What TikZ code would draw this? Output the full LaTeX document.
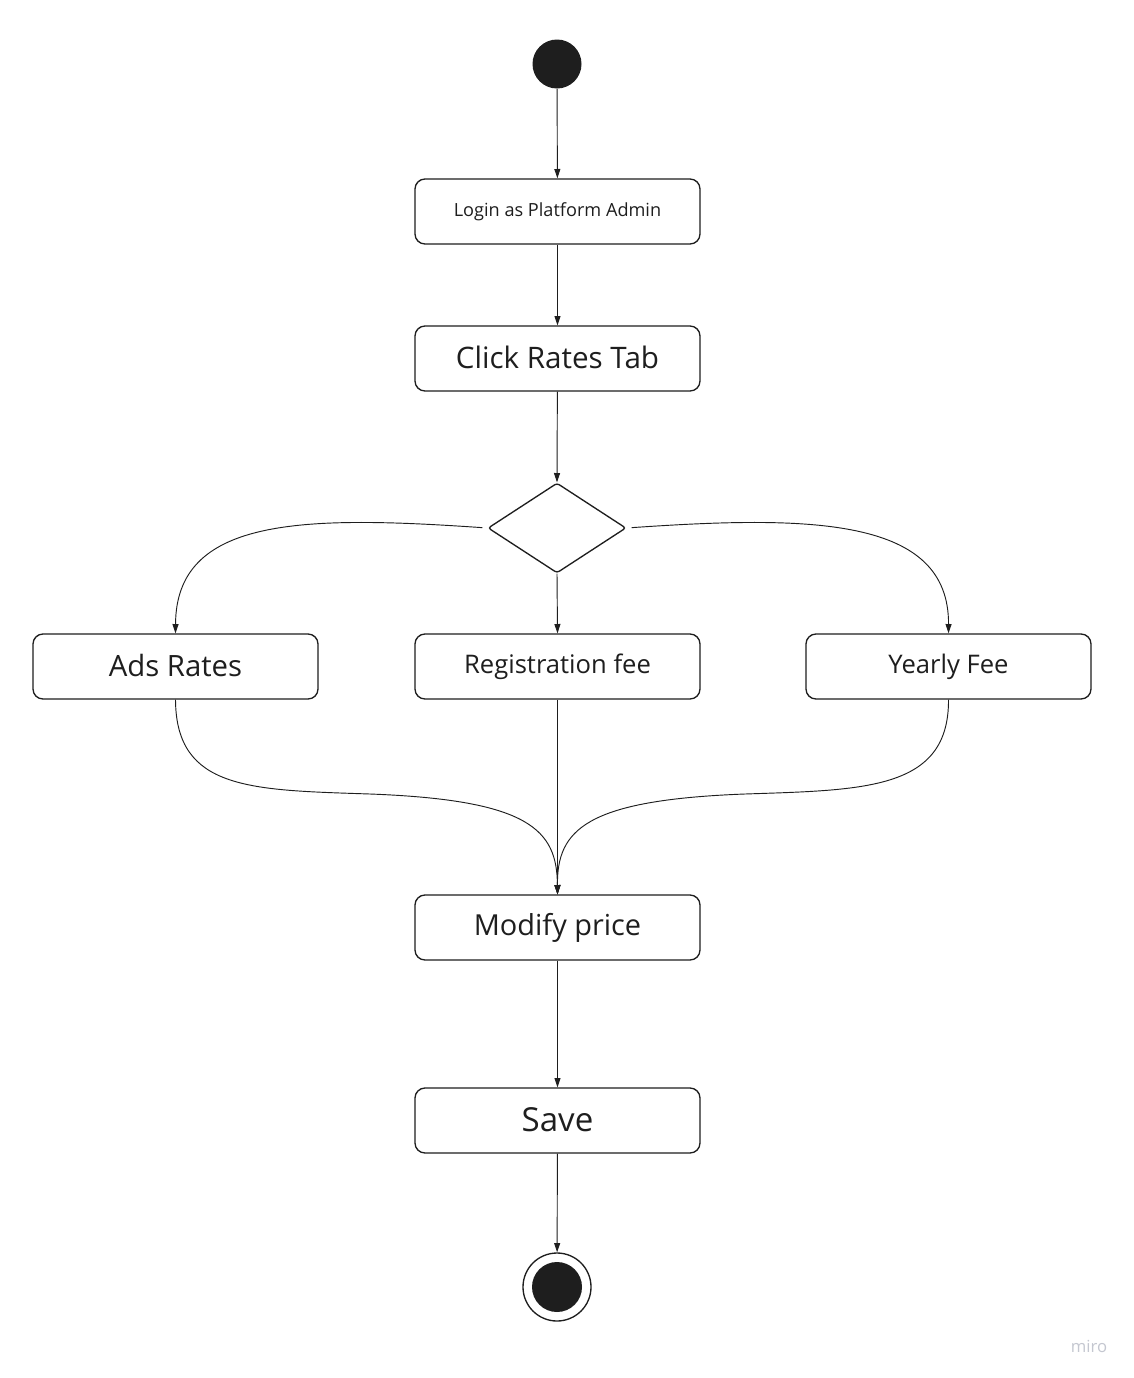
\documentclass[tikz,border=0pt]{standalone}
\usepackage{fontspec}
\setmainfont{Open Sans}
\usetikzlibrary{arrows.meta,shapes.geometric}
\definecolor{ink}{HTML}{1E1E1E}
\definecolor{wm}{HTML}{C4C7D0}
\begin{document}
\begin{tikzpicture}[x=0.75pt,y=-0.75pt,
  actbox/.style={draw=ink,line width=1pt,rounded corners=7.5pt,minimum width=213.75pt,minimum height=48.75pt,inner sep=0pt,text=ink},
  flow/.style={draw=ink,line width=0.7pt,-{Triangle[length=7pt,width=4.5pt]}},
  dot/.style={circle,fill=ink,inner sep=0pt,minimum size=36.75pt}]
\path[fill=white,use as bounding box] (0,0) rectangle (1133,1378);

\node[dot] (start) at (557,64) {};
\node[actbox,font=\fontsize{13.6}{16}\selectfont] (login) at (557.5,211.5) {Login as Platform Admin};
\node[actbox,font=\fontsize{22.2}{26}\selectfont] (click) at (557.5,358.5) {\raisebox{1.5pt}{Click Rates Tab}};
\node[diamond,draw=ink,line width=1pt,rounded corners=2pt,minimum width=103.5pt,minimum height=67.5pt,inner sep=0pt] (dia) at (557,528) {};
\node[actbox,font=\fontsize{22}{26}\selectfont] (ads) at (175.5,666.5) {\raisebox{1.5pt}{Ads Rates}};
\node[actbox,font=\fontsize{19.2}{23}\selectfont] (reg) at (557.5,666.5) {Registration fee};
\node[actbox,font=\fontsize{19.2}{23}\selectfont] (yearly) at (948.5,666.5) {Yearly Fee};
\node[actbox,font=\fontsize{21.7}{26}\selectfont] (modify) at (557.5,927.5) {\raisebox{1pt}{Modify price}};
\node[actbox,font=\fontsize{24.8}{29}\selectfont] (save) at (557.5,1120.5) {\raisebox{1.5pt}{Save}};
\node[circle,draw=ink,line width=1pt,fill=white,inner sep=0pt,minimum size=51pt] (endo) at (557,1287) {};
\node[dot,minimum size=37.5pt] (endi) at (endo.center) {};
\node[text=wm,font=\fontsize{12.5}{14}\selectfont] (miro) at (1089,1346) {miro};

\draw[flow] (start) -- (login);
\draw[flow] (login) -- (click);
\draw[flow] (click) -- (dia.north);
\draw[flow,shorten <=3.75pt] (dia.west) .. controls (300,515) and (176,518) .. (ads.north);
\draw[flow,shorten <=3.75pt] (dia.east) .. controls (814,515) and (949,518) .. (yearly.north);
\draw[flow] (dia.south) -- (reg.north);
\draw[flow] (ads.south) .. controls (176,790) and (250,790) .. (370,794) .. controls (530,800) and (557,830) .. (modify.north);
\draw[flow] (yearly.south) .. controls (949,790) and (865,790) .. (745,794) .. controls (585,800) and (557,830) .. (modify.north);
\draw[flow] (reg) -- (modify);
\draw[flow] (modify) -- (save);
\draw[flow] (save) -- (endo);
\end{tikzpicture}
\end{document}
